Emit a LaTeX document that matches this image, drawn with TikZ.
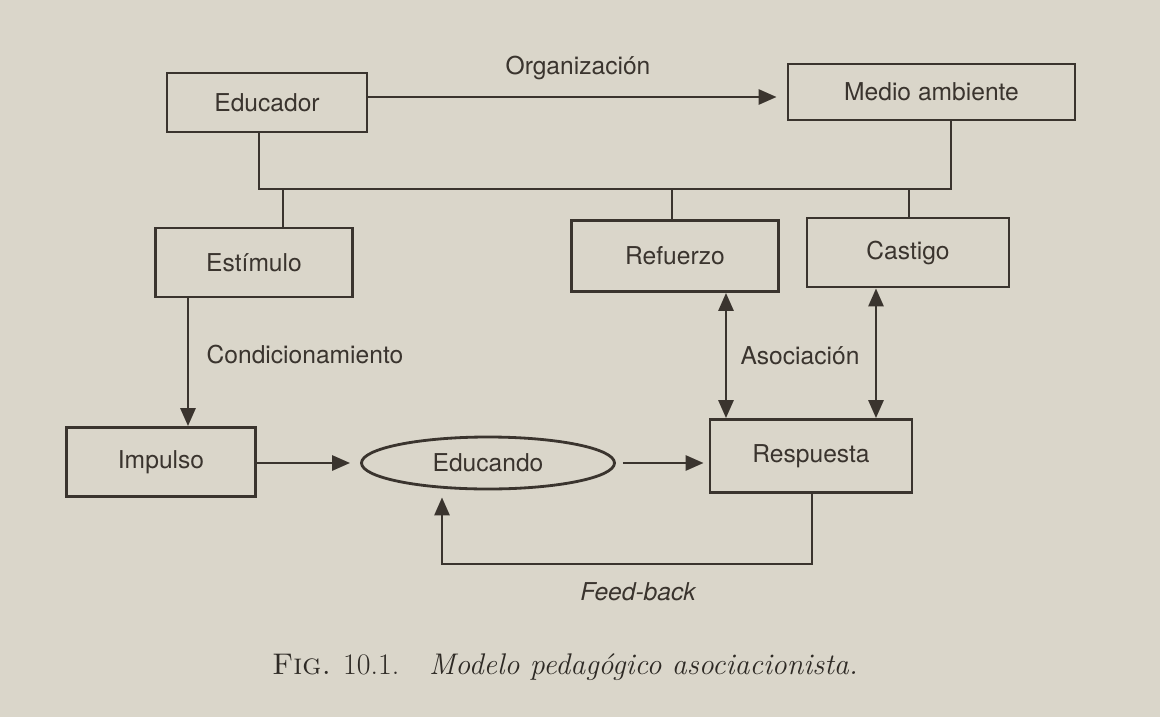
\documentclass[tikz,border=0pt]{standalone}
\usepackage{fontspec}
\usepackage{tikz}
\usetikzlibrary{arrows.meta,positioning,shapes}
\newfontfamily\helv{TeX Gyre Heros}
\definecolor{papel}{RGB}{218,214,202}
\definecolor{tinta}{RGB}{58,52,46}

\tikzset{
  caja/.style={draw=tinta, rectangle, line width=1.6pt, inner sep=0pt,
    text=tinta, font=\helv\fontsize{14}{16}\selectfont},
  elipse/.style={caja, ellipse},
  etiq/.style={text=tinta, font=\helv\fontsize{14}{16}\selectfont},
  linea/.style={draw=tinta, line width=1.6pt},
  flecha/.style={linea, -{Triangle[length=3.6mm,width=3mm]}},
  dflecha/.style={linea, {Triangle[length=3.6mm,width=3mm]}-{Triangle[length=3.6mm,width=3mm]}}
}

\begin{document}
\begin{tikzpicture}
  % Fondo
  \fill[papel] (0,0) rectangle (23.2,-14.34);
  \useasboundingbox (0,0) rectangle (23.2,-14.34);

  % Nodos
  \node[caja, minimum width=4.0cm, minimum height=1.18cm] (educador) at (5.34,-2.05) {Educador};
  \node[caja, minimum width=5.74cm, minimum height=1.12cm] (medio) at (18.63,-1.84) {Medio ambiente};
  \node[caja, minimum width=3.94cm, minimum height=1.38cm] (estimulo) at (5.08,-5.25) {Estímulo};
  \node[caja, minimum width=4.14cm, minimum height=1.42cm] (refuerzo) at (13.5,-5.12) {Refuerzo};
  \node[caja, minimum width=4.04cm, minimum height=1.38cm] (castigo) at (18.16,-5.05) {Castigo};
  \node[caja, minimum width=3.78cm, minimum height=1.38cm] (impulso) at (3.22,-9.24) {Impulso};
  \node[elipse, minimum width=5.06cm, minimum height=1.04cm] (educando) at (9.76,-9.26) {Educando};
  \node[caja, minimum width=4.04cm, minimum height=1.46cm] (respuesta) at (16.22,-9.12) {Respuesta};

  % Puntos auxiliares
  \coordinate (busI) at (5.18,-3.78);
  \coordinate (busD) at (19.02,-3.78);
  \coordinate (bE) at (5.66,-3.78);
  \coordinate (bR) at (13.44,-3.78);
  \coordinate (bC) at (18.18,-3.78);
  \coordinate (fb) at (16.24,-11.28);
  \coordinate (fbI) at (8.84,-11.28);

  % Conexiones
  \draw[flecha, shorten >=2mm] (educador.east |- 0,-1.94) -- (medio.west |- 0,-1.94);
  \draw[linea] (educador.south -| busI) -- (busI) -- (busD) -- (medio.south -| busD);
  \draw[linea] (bE) -- (estimulo.north -| bE);
  \draw[linea] (bR) -- (refuerzo.north -| bR);
  \draw[linea] (bC) -- (castigo.north -| bC);
  \draw[flecha] (estimulo.south -| 3.76,0) -- (impulso.north -| 3.76,0);
  \draw[flecha, shorten >=2mm] (impulso.east |- educando.west) -- (educando.west);
  \draw[flecha, shorten <=1.4mm, shorten >=1mm] (educando.east) -- (respuesta.west |- educando.east);
  \draw[dflecha] (refuerzo.south -| 14.52,0) -- (respuesta.north -| 14.52,0);
  \draw[dflecha] (castigo.south -| 17.52,0) -- (respuesta.north -| 17.52,0);
  \draw[flecha, shorten >=1.4mm] (respuesta.south -| fb) -- (fb) -- (fbI) -- (educando.south -| fbI);

  % Etiquetas
  \node[etiq] (organiza) at (11.56,-1.36) {Organización};
  \node[etiq] (condiciona) at (6.1,-7.1) {Condicionamiento};
  \node[etiq] (asocia) at (16.0,-7.12) {Asociación};
  \node[etiq, font=\helv\itshape\fontsize{14}{16}\selectfont] (feed) at (12.76,-11.84) {Feed-back};

  % Pie de figura
  \node[text=tinta!80!black, font=\fontsize{17}{20}\selectfont] (pie) at (11.3,-13.34)
    {\textsc{Fig.} 10.1.\quad\textit{Modelo pedagógico asociacionista.}};
\end{tikzpicture}
\end{document}
